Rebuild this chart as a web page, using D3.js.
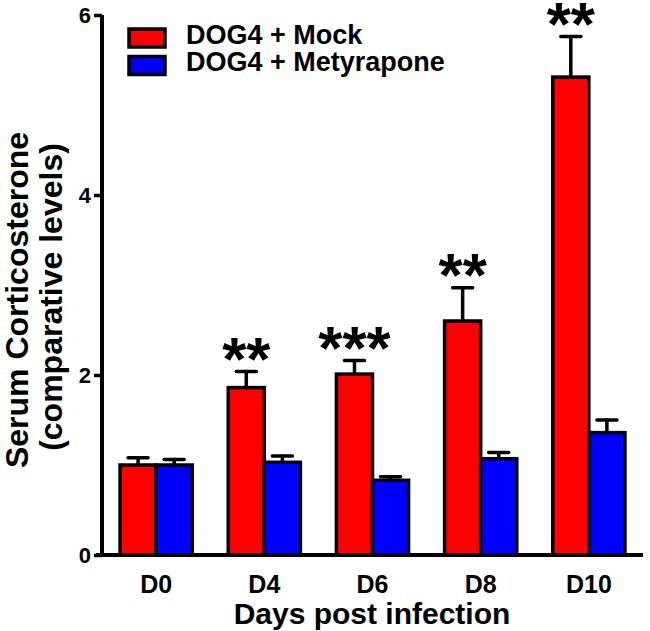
<!DOCTYPE html>
<html><head><meta charset="utf-8">
<script src="https://cdn.jsdelivr.net/npm/d3@7"></script>
<style>
html,body{margin:0;padding:0;background:#fff;}
text{font-family:"Liberation Sans",Arial,sans-serif;font-weight:bold;fill:#000;}
</style></head>
<body><svg id="c" width="650" height="631"></svg>
<script>
const days = ["D0","D4","D6","D8","D10"];
const seriesNames = ["DOG4 + Mock","DOG4 + Metyrapone"];
const mockMean = [1.0, 1.86, 2.01, 2.60, 5.31];
const mockErr  = [0.08, 0.18, 0.15, 0.37, 0.45];
const metyMean = [1.0, 1.03, 0.83, 1.07, 1.36];
const metyErr  = [0.06, 0.07, 0.04, 0.07, 0.14];
const stars    = ["", "**", "***", "**", "**"];
const yTicks   = [0, 2, 4, 6];
const colors   = ["#ff0000", "#0000ff"];

const svg = d3.select("#c");
const y = d3.scaleLinear().domain([0, 6]).range([555, 15]);
const x = d3.scaleBand().domain(days).range([102, 643]).paddingInner(0.333).paddingOuter(0.167);
const bw = x.bandwidth() / 2;

const series = [mockMean, metyMean];
const errs = [mockErr, metyErr];

// bars
series.forEach((vals, s) => {
  svg.append("g").selectAll("rect").data(days).join("rect")
    .attr("x", d => x(d) + s * bw)
    .attr("y", (d, i) => y(vals[i]))
    .attr("width", bw)
    .attr("height", (d, i) => y(0) - y(vals[i]))
    .attr("fill", colors[s])
    .attr("stroke", "#000")
    .attr("stroke-width", 3.5);
  const g = svg.append("g").attr("stroke", "#000").attr("stroke-width", 3.5).attr("stroke-linecap", "round");
  days.forEach((d, i) => {
    const cx = x(d) + s * bw + bw / 2;
    const top = y(vals[i] + errs[s][i]);
    g.append("line").attr("x1", cx).attr("x2", cx).attr("y1", y(vals[i])).attr("y2", top);
    g.append("line").attr("x1", cx - 10).attr("x2", cx + 10).attr("y1", top).attr("y2", top);
  });
});

// significance stars
const fsStar = 62;
svg.append("g").selectAll("text").data(days).join("text")
  .attr("x", d => x(d) + bw / 2)
  .attr("y", (d, i) => y(mockMean[i] + mockErr[i]) - 8 + 0.27 * fsStar)
  .attr("text-anchor", "middle")
  .attr("font-size", fsStar)
  .text((d, i) => stars[i]);

// y axis
const yAxis = svg.append("g").attr("transform", "translate(102,0)")
  .call(d3.axisLeft(y).tickValues(yTicks).tickSize(8).tickPadding(3).tickFormat(d3.format("d")));
yAxis.select(".domain").attr("stroke-width", 4).attr("d", `M0,${y(6)}V${y(0)}`);
yAxis.selectAll(".tick line").attr("stroke-width", 3.5);
yAxis.selectAll(".tick text").attr("font-size", 22).attr("font-family", "Liberation Sans, Arial, sans-serif").attr("font-weight", "bold");

// x axis
const xAxis = svg.append("g").attr("transform", "translate(0,555)")
  .call(d3.axisBottom(x).tickSize(0).tickPadding(20));
xAxis.select(".domain").attr("stroke-width", 4).attr("d", "M96,0H643");
xAxis.selectAll(".tick text").attr("font-size", 25).attr("font-family", "Liberation Sans, Arial, sans-serif").attr("font-weight", "bold");

// axis titles
svg.append("text").attr("x", 372).attr("y", 624).attr("text-anchor", "middle").attr("font-size", 30).text("Days post infection");
svg.append("text").attr("transform", "translate(28,300) rotate(-90)").attr("text-anchor", "middle").attr("font-size", 32).text("Serum Corticosterone");
svg.append("text").attr("transform", "translate(62,297) rotate(-90)").attr("text-anchor", "middle").attr("font-size", 32).text("(comparative levels)");

// legend
const leg = svg.append("g");
seriesNames.forEach((n, i) => {
  leg.append("rect").attr("x", 129).attr("y", 29 + i * 27.5).attr("width", 36).attr("height", 18)
    .attr("fill", colors[i]).attr("stroke", "#000").attr("stroke-width", 3.5);
  leg.append("text").attr("x", 186).attr("y", 44 + i * 27).attr("font-size", 27).text(n);
});
</script></body></html>
